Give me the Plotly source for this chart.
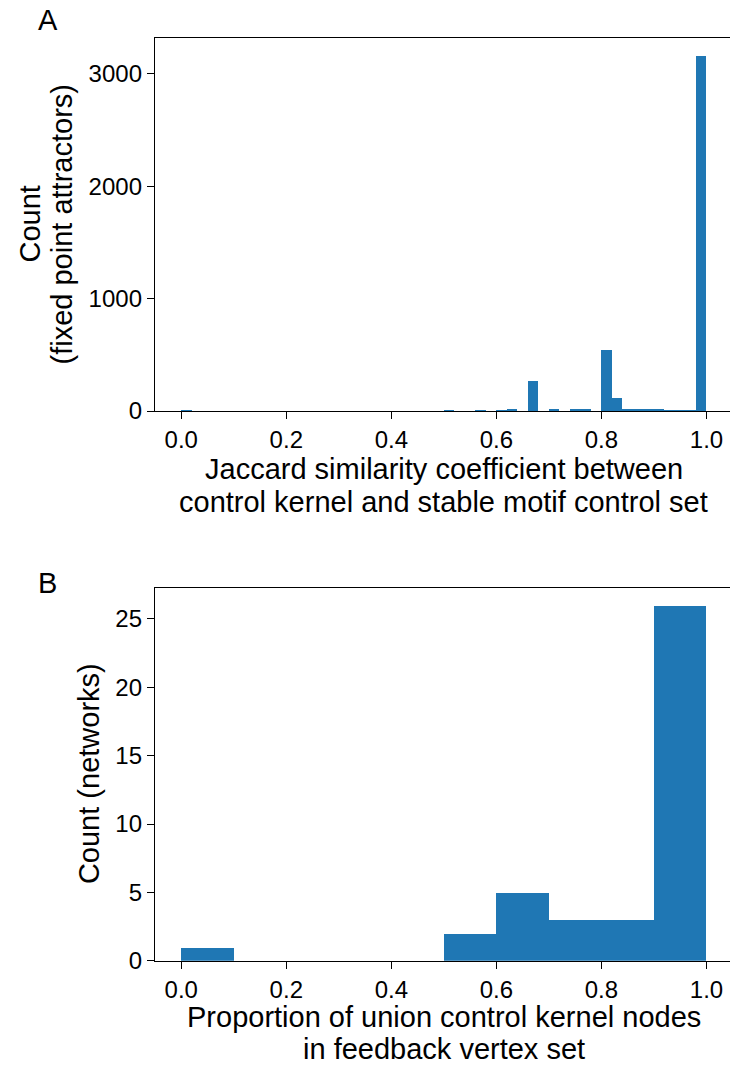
import plotly.graph_objects as go

# ---------------- data ----------------
# Panel A: histogram of Jaccard similarity (50 bins of width 0.02 on [0, 1])
a_bin_width = 0.02
a_bin_starts = [round(i * a_bin_width, 2) for i in range(50)]
a_counts = [
    2, 0, 0, 0, 0, 0, 0, 0, 0, 0,      # 0.00 - 0.18
    0, 0, 0, 0, 0, 0, 0, 0, 0, 0,      # 0.20 - 0.38
    0, 0, 0, 0, 0, 3, 0, 0, 3, 0,      # 0.40 - 0.58
    1, 12, 0, 263, 0, 10, 0, 11, 11, 0,  # 0.60 - 0.78
    545, 117, 9, 9, 9, 20, 2, 3, 2, 3160,  # 0.80 - 0.98
]
a_yticks = [0, 1000, 2000, 3000]

# Panel B: histogram of proportion (10 bins of width 0.1 on [0, 1])
b_bin_width = 0.1
b_bin_starts = [round(i * b_bin_width, 1) for i in range(10)]
b_counts = [1, 0, 0, 0, 0, 2, 5, 3, 3, 26]
b_yticks = [0, 5, 10, 15, 20, 25]

x_ticks = [0.0, 0.2, 0.4, 0.6, 0.8, 1.0]
x_ticklabels = ["0.0", "0.2", "0.4", "0.6", "0.8", "1.0"]

BAR = "#1f77b4"
FONT = "Liberation Sans, Arial, Helvetica, sans-serif"
TICK_SIZE = 24
TITLE_SIZE = 29

W, H = 730, 1065
# pixel geometry of the axes
left_px, right_px = 155.0, 730.0
a_top, a_bot = 38.0, 411.0
b_top, b_bot = 587.5, 960.7

# data units per pixel from matplotlib default limits (-0.05..1.05 over 155..732.75)
x_lo = -0.05
upp = 1.1 / (732.75 - 155.0)
x_hi = x_lo + (right_px - left_px) * upp

a_ymax = max(a_counts) * 1.05
b_ymax = max(b_counts) * 1.05

fig = go.Figure()
fig.add_trace(go.Bar(
    x=a_bin_starts, y=a_counts, width=a_bin_width, offset=0,
    marker=dict(color=BAR, line=dict(width=0)),
    xaxis="x", yaxis="y", showlegend=False, hoverinfo="x+y",
))
fig.add_trace(go.Bar(
    x=b_bin_starts, y=b_counts, width=b_bin_width, offset=0,
    marker=dict(color=BAR, line=dict(width=0)),
    xaxis="x2", yaxis="y2", showlegend=False, hoverinfo="x+y",
))

def fy(px):
    return (H - px) / H

axis_common = dict(
    showline=True, linecolor="black", linewidth=1.4,
    ticks="outside", ticklen=7, tickwidth=1.4, tickcolor="black",
    showgrid=False, zeroline=False, automargin=False,
    tickfont=dict(family=FONT, size=TICK_SIZE, color="black"),
)

xdom = [left_px / W, right_px / W]
fig.update_layout(
    width=W, height=H,
    margin=dict(l=0, r=0, t=0, b=0),
    paper_bgcolor="white", plot_bgcolor="white",
    bargap=0,
    xaxis=dict(domain=xdom, range=[x_lo, x_hi], tickvals=x_ticks, ticktext=x_ticklabels,
               anchor="y", mirror=True, **axis_common),
    yaxis=dict(domain=[fy(a_bot), fy(a_top)], range=[0, a_ymax], tickvals=a_yticks,
               anchor="x", mirror=False, **axis_common),
    xaxis2=dict(domain=xdom, range=[x_lo, x_hi], tickvals=x_ticks, ticktext=x_ticklabels,
                anchor="y2", mirror=True, **axis_common),
    yaxis2=dict(domain=[fy(b_bot), fy(b_top)], range=[0, b_ymax], tickvals=b_yticks,
                anchor="x2", mirror=False, **axis_common),
    font=dict(family=FONT, color="black"),
)

def ann(text, x, y, size, angle=0):
    fig.add_annotation(
        text=text, x=x / W, y=fy(y), xref="paper", yref="paper",
        showarrow=False, xanchor="center", yanchor="middle",
        textangle=angle, font=dict(family=FONT, size=size, color="black"),
    )

xc = (155.0 + 732.75) / 2
# panel letters
ann("A", 48, 20, TITLE_SIZE)
ann("B", 48, 583, TITLE_SIZE)
# y titles
ann("Count", 30, (a_top + a_bot) / 2, TITLE_SIZE, -90)
ann("(fixed point attractors)", 62, (a_top + a_bot) / 2, TITLE_SIZE, -90)
ann("Count (networks)", 89, (b_top + b_bot) / 2, TITLE_SIZE, -90)
# x titles
ann("Jaccard similarity coefficient between", xc, 469, TITLE_SIZE)
ann("control kernel and stable motif control set", xc, 502, TITLE_SIZE)
ann("Proportion of union control kernel nodes", xc, 1017, TITLE_SIZE)
ann("in feedback vertex set", xc, 1049, TITLE_SIZE)

fig.write_html(
    "out.html",
    config={"displayModeBar": False},
    post_script="document.body.style.margin='0px';document.body.style.padding='0px';",
)
